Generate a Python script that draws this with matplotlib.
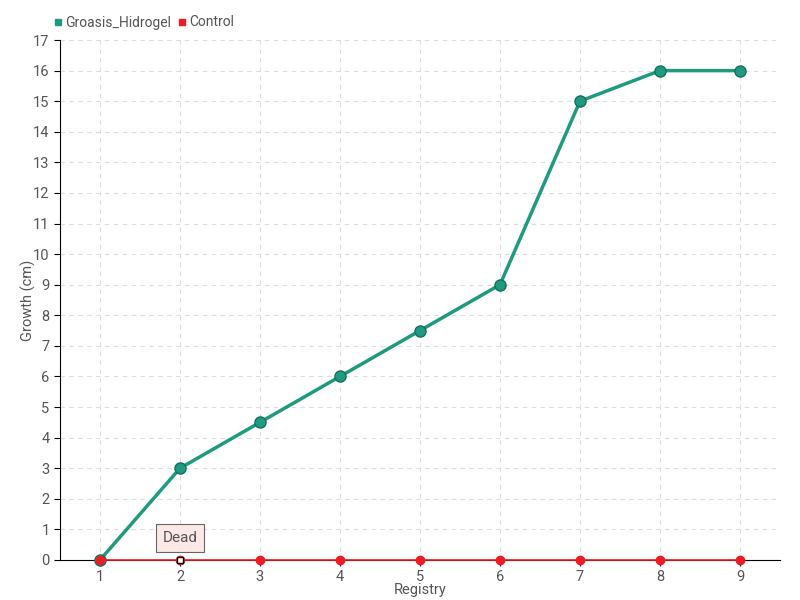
import matplotlib
matplotlib.use("Agg")
import matplotlib.pyplot as plt
from matplotlib.lines import Line2D

registry = [1, 2, 3, 4, 5, 6, 7, 8, 9]
groasis_hidrogel = [0, 3, 4.5, 6, 7.5, 9, 15, 16, 16]
control = [0, 0, 0, 0, 0, 0, 0, 0, 0]

green = "#1f9a80"
red = "#ec1c24"
txt = "#555555"

plt.rcParams["font.family"] = ["Roboto", "DejaVu Sans"]

fig = plt.figure(figsize=(8, 6), dpi=100)
ax = fig.add_axes([0.075, 0.0667, 0.9, 0.8666])

ax.plot(registry, groasis_hidrogel, color=green, lw=2.5, marker="o", ms=8,
        markerfacecolor=green, markeredgecolor="#16705c", zorder=4,
        clip_on=False, label="Groasis_Hidrogel")
ax.plot(registry, control, color=red, lw=1.2, marker="o", ms=6,
        markerfacecolor=red, markeredgecolor=red, zorder=5,
        clip_on=False, label="Control")
# highlighted point
ax.plot(registry[1], control[1], marker="s", ms=5, markerfacecolor="white",
        markeredgecolor="black", zorder=6, clip_on=False)

ax.annotate("Dead", xy=(registry[1], control[1]), xytext=(0, 16),
            textcoords="offset points", ha="center", va="center",
            fontsize=11, color=txt,
            bbox=dict(boxstyle="square,pad=0.45", fc="#fde8e8", ec="#666666", lw=0.8),
            zorder=7)

ax.set_xlim(0.5, 9.5)
ax.set_ylim(0, 17)
ax.set_xticks(registry)
ax.set_yticks(range(0, 18))
ax.grid(True, ls=(0, (4, 4)), color="#dddddd", lw=0.8)
ax.set_axisbelow(True)
for s in ["top", "right"]:
    ax.spines[s].set_visible(False)
ax.tick_params(axis="both", colors="black", labelcolor=txt, labelsize=10.5, length=4)
ax.set_xlabel("Registry", color=txt, fontsize=10.5, labelpad=-1)
ax.set_ylabel("Growth (cm)", color=txt, fontsize=10.5, labelpad=-2)

handles = [Line2D([], [], ls="none", marker="s", ms=5, color=green),
           Line2D([], [], ls="none", marker="s", ms=5, color=red)]
fig.legend(handles, ["Groasis_Hidrogel", "Control"], loc="upper left",
           bbox_to_anchor=(0.05, 0.995), ncol=2, frameon=False,
           handletextpad=0.1, columnspacing=0.4, handlelength=0.8,
           labelcolor=txt, fontsize=10)

fig.savefig("out.png", dpi=100)
